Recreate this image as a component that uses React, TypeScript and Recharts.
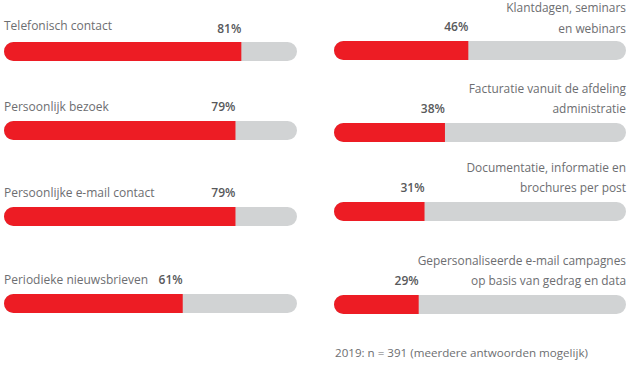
import React from "react";
import { BarChart, Bar, XAxis, YAxis, LabelList } from "recharts";

const leftCategories = [
  "Telefonisch contact",
  "Persoonlijk bezoek",
  "Persoonlijke e-mail contact",
  "Periodieke nieuwsbrieven",
];
const leftValues = [81, 79, 79, 61];

const rightCategories = [
  "Klantdagen, seminars\nen webinars",
  "Facturatie vanuit de afdeling\nadministratie",
  "Documentatie, informatie en\nbrochures per post",
  "Gepersonaliseerde e-mail campagnes\nop basis van gedrag en data",
];
const rightValues = [46, 38, 31, 29];

const footnote = "2019: n = 391 (meerdere antwoorden mogelijk)";

// layout constants (pixel positions of each row's bar top)
const leftTops = [41, 120, 206, 293];
const rightTops = [40, 122, 201, 294];

const RED = "#ED1C24";
const GRAY = "#D1D3D4";
const TEXT = "#6D6E71";
const VALUE_TEXT = "#58595B";
const FONT = "'Open Sans', sans-serif";
const CHART_W = 310;
const TOP_SPACE = 50;
const BAR_H = 21;

type RowProps = {
  side: "left" | "right";
  name: string;
  value: number;
  barTop: number;
  first: boolean;
};

function Row({ side, name, value, barTop, first }: RowProps) {
  const data = [{ name, value }];
  const margin =
    side === "left"
      ? { top: TOP_SPACE, bottom: 4, left: 4, right: 13 }
      : { top: TOP_SPACE, bottom: 4, left: 14, right: 4 };
  const left = side === "left" ? 0 : 320;
  const plotRight = CHART_W - margin.right;

  const renderValue = (p: any) => {
    const x = Number(p.x);
    const y = Number(p.y);
    const w = Number(p.width);
    return (
      <text
        x={x + w}
        y={y - (first && side === "left" ? 9 : 10)}
        textAnchor="end"
        fontFamily={FONT}
        fontSize={12}
        fontWeight={600}
        fill={VALUE_TEXT}
      >
        {p.value}%
      </text>
    );
  };

  const renderName = (p: any) => {
    const x = Number(p.x);
    const y = Number(p.y);
    const lines = String(p.value).split("\n");
    if (side === "left") {
      return (
        <text
          x={x}
          y={y - (first ? 12 : 10)}
          textAnchor="start"
          fontFamily={FONT}
          fontSize={12}
          fill={TEXT}
        >
          {lines[0]}
        </text>
      );
    }
    const lastOffset = first ? 8 : 10;
    const gap = first ? 21 : 20;
    return (
      <g>
        {lines.map((ln, i) => (
          <text
            key={i}
            x={plotRight}
            y={y - lastOffset - (lines.length - 1 - i) * gap}
            textAnchor="end"
            fontFamily={FONT}
            fontSize={11.9}
            fill={TEXT}
          >
            {ln}
          </text>
        ))}
      </g>
    );
  };

  return (
    <div style={{ position: "absolute", left, top: barTop - TOP_SPACE }}>
      <BarChart
        width={CHART_W}
        height={TOP_SPACE + BAR_H + 4}
        data={data}
        layout="vertical"
        margin={margin}
        style={{ overflow: "visible" }}
      >
        <XAxis type="number" domain={[0, 100]} hide />
        <YAxis type="category" dataKey="name" hide />
        <Bar
          dataKey="value"
          fill={RED}
          barSize={BAR_H}
          radius={[10, 0, 0, 10]}
          background={{ fill: GRAY, radius: 10 } as any}
          isAnimationActive={false}
        >
          <LabelList dataKey="name" content={renderName} />
          <LabelList dataKey="value" content={renderValue} />
        </Bar>
      </BarChart>
    </div>
  );
}

export default function App() {
  return (
    <div
      style={{
        position: "absolute",
        left: 0,
        top: 0,
        width: 630,
        height: 365,
        background: "#ffffff",
        overflow: "hidden",
      }}
    >
      {leftCategories.map((c, i) => (
        <Row
          key={"l" + i}
          side="left"
          name={c}
          value={leftValues[i]}
          barTop={leftTops[i]}
          first={i === 0}
        />
      ))}
      {rightCategories.map((c, i) => (
        <Row
          key={"r" + i}
          side="right"
          name={c}
          value={rightValues[i]}
          barTop={rightTops[i]}
          first={i === 0}
        />
      ))}
      <div
        style={{
          position: "absolute",
          left: 335,
          top: 345,
          fontFamily: FONT,
          fontSize: 11.6,
          lineHeight: "16px",
          color: TEXT,
          whiteSpace: "nowrap",
        }}
      >
        {footnote}
      </div>
    </div>
  );
}
